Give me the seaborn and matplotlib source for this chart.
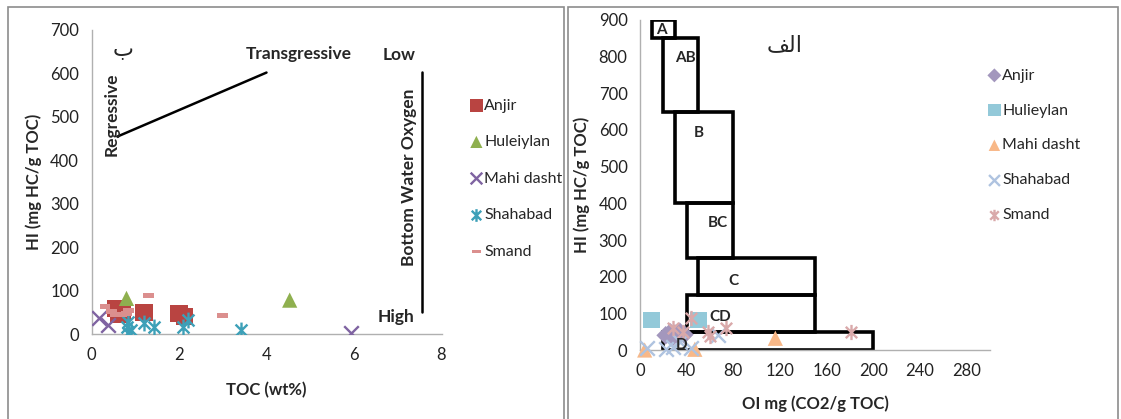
import numpy as np
import pandas as pd
import matplotlib
matplotlib.use("Agg")
import matplotlib.pyplot as plt
from matplotlib.path import Path
from matplotlib.patches import Rectangle
import seaborn as sns

# ---------------- data: left panel (HI vs TOC) ----------------
anjir_toc = [0.55, 0.7, 0.62, 1.2, 2.0, 2.12]
anjir_hi = [58, 50, 45, 50, 48, 40]
hule_toc = [0.8, 4.53]
hule_hi = [82, 78]
mahi_toc = [0.16, 0.37, 5.93]
mahi_hi = [36, 21, 2]
shah_toc = [0.84, 0.84, 0.9, 0.8, 1.19, 1.43, 2.1, 2.2, 3.42]
shah_hi = [28, 2, 9, 17, 25, 17, 17, 32, 9]
smand_toc = [0.31, 0.45, 0.55, 0.69, 0.84, 0.8, 1.3, 3.0]
smand_hi = [63, 52, 45, 44, 55, 48, 88, 42]

# ---------------- data: right panel (HI vs OI) ----------------
r_anjir_oi = [22, 26, 30, 34, 38, 28, 33]
r_anjir_hi = [40, 48, 45, 50, 42, 35, 38]
r_hule_oi = [10, 50]
r_hule_hi = [82, 82]
r_mahi_oi = [4, 47, 116]
r_mahi_hi = [0, 2, 32]
r_shah_oi = [6, 22, 28, 34, 44, 67]
r_shah_hi = [5, 2, 9, 23, 5, 41]
r_smand_oi = [44, 28, 37, 58, 74, 181, 60]
r_smand_hi = [86, 60, 50, 49, 59, 50, 38]

# organofacies boxes: (OI min, OI max, HI min, HI max, label)
box_oi_min = [10, 20, 30, 40, 50, 40, 20]
box_oi_max = [30, 50, 80, 80, 150, 150, 200]
box_hi_min = [850, 650, 400, 250, 150, 50, 0]
box_hi_max = [900, 850, 650, 400, 250, 150, 50]
box_labels = ["A", "AB", "B", "BC", "C", "CD", "D"]
box_label_oi = [18, 39, 50, 67, 80, 69, 36]
box_label_hi = [872, 796, 592, 346, 188, 90, 14]

sns.set_theme(style="white")
plt.rcParams['font.family'] = ['Lato', 'DejaVu Sans']

W, H = 1121, 419
fig = plt.figure(figsize=(W / 100, H / 100), dpi=100)

def fx(px):
    return px / W

def fy(py):
    return 1 - py / H

# panel frames
for x0, x1 in [(8, 564), (568, 1118)]:
    fig.add_artist(Rectangle((fx(x0), fy(425)), fx(x1) - fx(x0), fy(7) - fy(425),
                             transform=fig.transFigure, fill=False,
                             edgecolor="#8c8c8c", linewidth=1.2))

# custom markers
asterisk = Path([(0, -1), (0, 1), (-0.75, -0.75), (0.75, 0.75), (-0.75, 0.75), (0.75, -0.75)],
                [Path.MOVETO, Path.LINETO, Path.MOVETO, Path.LINETO, Path.MOVETO, Path.LINETO])
dash = Path([(-1, -0.45), (1, -0.45), (1, 0.45), (-1, 0.45), (-1, -0.45)],
            [Path.MOVETO, Path.LINETO, Path.LINETO, Path.LINETO, Path.CLOSEPOLY])

def style_axes(ax):
    for s in ["top", "right"]:
        ax.spines[s].set_visible(False)
    for s in ["left", "bottom"]:
        ax.spines[s].set_color("#b0b0b0")
        ax.spines[s].set_linewidth(1.0)
    ax.tick_params(axis="both", which="major", direction="out", length=5, width=1,
                   color="#b0b0b0", labelsize=12, labelcolor="#222222", pad=4)
    ax.grid(False)
    ax.set_facecolor("none")

# ---------------- left axes ----------------
axL = fig.add_axes([fx(91.5), fy(334), fx(441.5) - fx(91.5), fy(30) - fy(334)])
left_series = [
    ("Anjir", anjir_toc, anjir_hi, "s", "#B94441", 150, True),
    ("Huleiylan", hule_toc, hule_hi, "^", "#8FB04F", 120, True),
    ("Mahi dasht", mahi_toc, mahi_hi, "x", "#7F63A1", 110, False),
    ("Shahabad", shah_toc, shah_hi, asterisk, "#3DA0B8", 130, False),
    ("Smand", smand_toc, smand_hi, dash, "#DB8F8E", 60, True),
]
for name, xs, ys, mk, col, sz, filled in left_series:
    if filled:
        sns.scatterplot(x=xs, y=ys, marker=mk, color=col, s=sz, edgecolor="none",
                        ax=axL, label=name, zorder=3)
    else:
        sns.scatterplot(x=xs, y=ys, marker=mk, color=col, s=sz, edgecolor=col,
                        linewidth=1.7, ax=axL, label=name, zorder=3)
axL.set_xlim(0, 8)
axL.set_ylim(0, 700)
axL.set_xticks([0, 2, 4, 6, 8])
axL.set_yticks(range(0, 701, 100))
style_axes(axL)
axL.set_xlabel("TOC (wt%)", fontsize=12, fontweight="bold", labelpad=14)
axL.set_ylabel("HI (mg HC/g TOC)", fontsize=12, fontweight="bold", labelpad=6)

# annotations
axL.plot([0.6, 4.0], [455, 602], color="black", linewidth=1.8, zorder=2)
axL.plot([7.56, 7.56], [50, 603], color="black", linewidth=1.8, zorder=2)
axL.text(0.72, 654, "ب", fontsize=16, ha="center", va="center", family="DejaVu Sans")
axL.text(4.73, 645, "Transgressive", fontsize=12.5, fontweight="bold", ha="center", va="center")
axL.text(7.03, 643, "Low", fontsize=12.5, fontweight="bold", ha="center", va="center")
axL.text(6.95, 40, "High", fontsize=12.5, fontweight="bold", ha="center", va="center")
axL.text(0.47, 505, "Regressive", fontsize=12.5, fontweight="bold", rotation=90,
         ha="center", va="center")
axL.text(7.25, 360, "Bottom Water Oxygen", fontsize=12.5, fontweight="bold", rotation=90,
         ha="center", va="center")

legL = axL.legend(loc="upper left", bbox_to_anchor=(fx(462), fy(92)),
                  bbox_transform=fig.transFigure, frameon=False, fontsize=11.5,
                  labelspacing=1.4, handletextpad=0.0, handlelength=1.0,
                  borderaxespad=0, markerscale=0.8)

# ---------------- right axes ----------------
axR = fig.add_axes([fx(640), fy(350), fx(990) - fx(640), fy(20) - fy(350)])
for x0, x1, y0, y1 in zip(box_oi_min, box_oi_max, box_hi_min, box_hi_max):
    axR.add_patch(Rectangle((x0, y0), x1 - x0, y1 - y0, fill=False,
                            edgecolor="black", linewidth=2.6, zorder=2))
for lab, bx, by in zip(box_labels, box_label_oi, box_label_hi):
    axR.text(bx, by, lab, fontsize=11, fontweight="bold", ha="center", va="center", zorder=4)

right_series = [
    ("Anjir", r_anjir_oi, r_anjir_hi, "D", "#A397BD", 90, True),
    ("Hulieylan", r_hule_oi, r_hule_hi, "s", "#93C9D9", 140, True),
    ("Mahi dasht", r_mahi_oi, r_mahi_hi, "^", "#F8B888", 120, True),
    ("Shahabad", r_shah_oi, r_shah_hi, "x", "#AFC3E0", 110, False),
    ("Smand", r_smand_oi, r_smand_hi, asterisk, "#D9A9AA", 120, False),
]
for name, xs, ys, mk, col, sz, filled in right_series:
    if filled:
        sns.scatterplot(x=xs, y=ys, marker=mk, color=col, s=sz, edgecolor="none",
                        ax=axR, label=name, zorder=3, clip_on=False)
    else:
        sns.scatterplot(x=xs, y=ys, marker=mk, color=col, s=sz, edgecolor=col,
                        linewidth=1.7, ax=axR, label=name, zorder=3, clip_on=False)
axR.set_xlim(0, 300)
axR.set_ylim(0, 900)
axR.set_xticks(range(0, 281, 40))
axR.set_yticks(range(0, 901, 100))
style_axes(axR)
axR.set_xlabel("OI mg (CO2/g TOC)", fontsize=12, fontweight="bold", labelpad=12)
axR.set_ylabel("HI (mg HC/g TOC)", fontsize=12, fontweight="bold", labelpad=6)
axR.text(124, 832, "\uFED2\uFEDF\uFE8D", fontsize=16, ha="center", va="center",
         family="DejaVu Sans")

legR = axR.legend(loc="upper left", bbox_to_anchor=(fx(980), fy(62)),
                  bbox_transform=fig.transFigure, frameon=False, fontsize=11.5,
                  labelspacing=1.3, handletextpad=0.0, handlelength=1.0,
                  borderaxespad=0, markerscale=0.75)

fig.savefig("out.png", dpi=100)
